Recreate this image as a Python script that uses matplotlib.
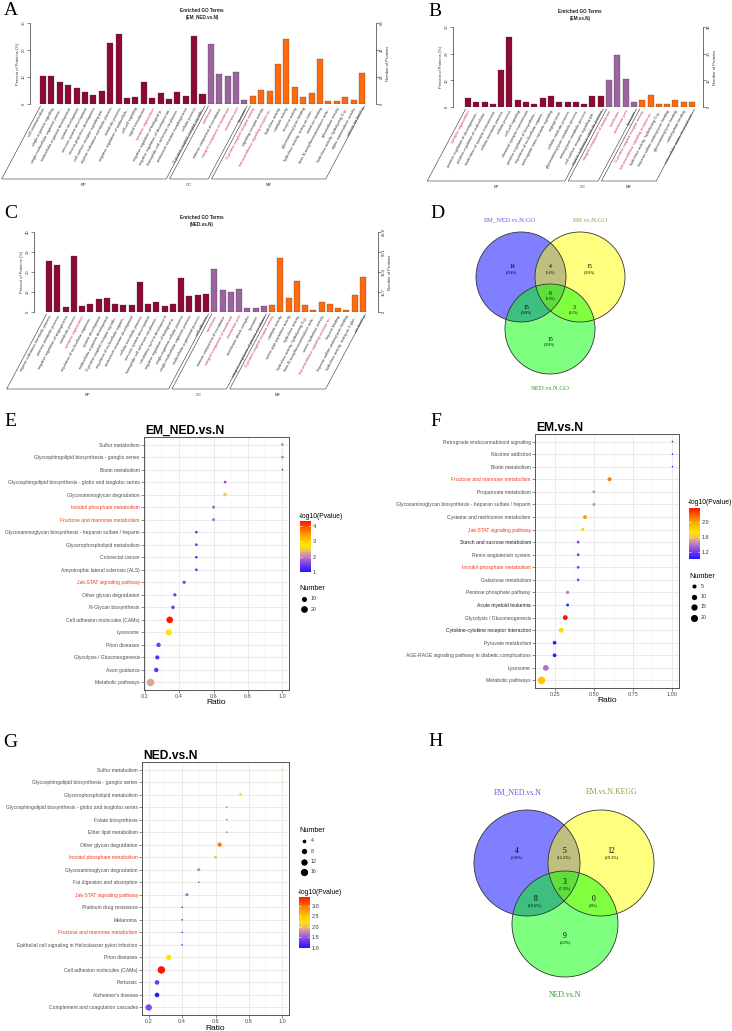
import numpy as np
import matplotlib
matplotlib.use("Agg")
import matplotlib.pyplot as plt
from matplotlib.colors import LinearSegmentedColormap, Normalize
from matplotlib.patches import Circle

W, H = 732, 1031
plt.rcParams["font.family"] = ["Liberation Sans", "DejaVu Sans"]
SERIF = ["Liberation Serif", "DejaVu Serif"]

# ---------------- GO bar charts (A, B, C) ----------------
GROUP_NAMES = ["BP", "CC", "MF"]
GROUP_COLORS = ["#8C0A32", "#9B63A0", "#FF6A0D"]
RED_TERMS = {"synapse organization", "membrane", "integral component of membrane",
             "membrane part", "G-protein coupled receptor activity",
             "transmembrane signaling receptor ac..."}

A_TERMS = [
    "cell communication", "single organism signaling", "single-multicellular organism proce...",
    "multicellular organism development", "system development", "nervous system development",
    "neuron projection development", "cell surface receptor signaling pat...",
    "organic substance metabolic process", "metabolic process",
    "negative regulation of multicellula...", "cell-cell signaling", "signal transduction",
    "synapse organization", "negative regulation of biological p...",
    "negative regulation of developmenta...", "homophilic cell adhesion via plasma...",
    "anatomical structure morphogenesis", "cellular process",
    "G-protein coupled receptor signalin...",
    "membrane", "intrinsic component of membrane", "integral component of membrane",
    "membrane part", "lysosome",
    "G-protein coupled receptor activity", "signaling receptor activity",
    "transmembrane signaling receptor ac...", "hydrolase activity", "catalytic activity",
    "receptor activity", "glycosaminoglycan binding", "hydrolase activity, acting on ester...",
    "metal ion binding", "beta-N-acetylhexosaminidase activ...", "glucosidase activity",
    "hydrolase activity, hydrolyzing O-g...", "alpha-mannosidase activity", "calcium ion binding",
]
A_GROUP_SIZES = [20, 5, 14]
A_PCT = [10.5, 10.5, 8.3, 7.0, 6.1, 4.5, 3.2, 4.8, 22.7, 25.8, 2.3, 2.7, 8.3, 2.3, 4.0,
         1.8, 4.4, 3.1, 25.3, 3.6,
         22.3, 11.0, 10.5, 11.9, 1.4,
         3.1, 5.3, 4.9, 14.9, 24.1, 6.2, 2.7, 4.0, 16.7, 1.0, 1.0, 2.7, 1.4, 11.4]
A_TOTAL = 230

B_TERMS = [
    "synapse organization", "positive regulation of developmenta...",
    "positive regulation of multicellular...", "modulation of synaptic transmission",
    "cellular metabolic process", "cellular process", "cell-cell signaling",
    "chemical synaptic transmission", "positive regulation of biosynthetic...",
    "regulation of multicellular organis...", "anterograde trans-synaptic signaling",
    "angiogenesis", "cellular catabolic process", "glycosaminoglycan metabolic process",
    "aminoglycan metabolic process", "cell surface receptor signaling pat...",
    "organic substance catabolic process",
    "integral component of membrane", "membrane", "membrane part", "lysosome",
    "G-protein coupled receptor activity", "transmembrane signaling receptor ac...",
    "hydrolase activity, hydrolyzing O-g...", "heparan sulfate proteoglycan binding",
    "glycosaminoglycan binding", "carbohydrate binding", "extracellular matrix structural con...",
]
B_GROUP_SIZES = [17, 4, 7]
B_PCT = [3.4, 2.0, 2.0, 1.3, 14.0, 26.3, 2.6, 2.0, 1.3, 3.4, 4.0, 2.0, 2.0, 2.0, 1.3, 4.0, 4.0,
         10.0, 19.5, 10.6, 2.0,
         2.6, 4.6, 1.3, 1.3, 2.6, 2.0, 2.0]
B_TOTAL = 150

C_TERMS = [
    "organic substance metabolic process", "primary metabolic process",
    "negative regulation of angiogenesis", "metabolic process", "synapse organization",
    "regulation of multicellular organism...", "system development",
    "multicellular organism development", "G-protein coupled receptor signalin...",
    "regulation of multicellular organis...", "anatomical structure development",
    "cellular metabolic process", "nervous system development",
    "homophilic cell adhesion via plasma...", "circulatory system development",
    "negative regulation of biological p...", "single-organism cellular process",
    "single-multicellular organism process", "multicellular organismal process", "cell adhesion",
    "membrane", "intrinsic component of membrane", "integral component of membrane",
    "membrane part", "membrane attack complex", "lysosome",
    "integral component of plasma membrane",
    "G-protein coupled receptor activity", "catalytic activity", "serine-type peptidase activity",
    "hydrolase activity", "hydrolase activity, hydrolyzing O-g...",
    "beta-N-acetylhexosaminidase activ...", "serine hydrolase activity",
    "transmembrane signaling receptor ac...", "heparin binding",
    "heparan sulfate proteoglycan binding", "hydrolase activity, acting on 1-glyc...", "ion binding",
]
C_GROUP_SIZES = [20, 7, 12]
C_PCT = [25.6, 23.5, 2.5, 28.0, 3.1, 4.2, 6.6, 7.2, 4.2, 3.6, 3.6, 15.0, 4.2, 4.8, 3.1, 4.2,
         16.8, 7.8, 8.4, 9.0,
         21.7, 10.8, 10.2, 11.4, 1.8, 1.8, 3.1,
         3.6, 26.8, 7.2, 15.5, 3.6, 1.2, 4.8, 4.2, 1.8, 1.2, 8.4, 17.4]
C_TOTAL = 167

# ---------------- KEGG dot plots (E, F, G) ----------------
KEGG_RED = {"Inositol phosphate metabolism", "Fructose and mannose metabolism",
            "Jak-STAT signaling pathway"}

E_TERMS = [
    "Sulfur metabolism", "Glycosphingolipid biosynthesis - ganglio series", "Biotin metabolism",
    "Glycosphingolipid biosynthesis - globo and isoglobo series", "Glycosaminoglycan degradation",
    "Inositol phosphate metabolism", "Fructose and mannose metabolism",
    "Glycosaminoglycan biosynthesis - heparan sulfate / heparin", "Glycerophospholipid metabolism",
    "Colorectal cancer", "Amyotrophic lateral sclerosis (ALS)", "Jak-STAT signaling pathway",
    "Other glycan degradation", "N-Glycan biosynthesis", "Cell adhesion molecules (CAMs)",
    "Lysosome", "Prion diseases", "Glycolysis / Gluconeogenesis", "Axon guidance",
    "Metabolic pathways",
]
E_RATIO = [1.0, 1.0, 1.0, 0.667, 0.667, 0.6, 0.6, 0.5, 0.5, 0.5, 0.5, 0.429, 0.375, 0.364,
           0.345, 0.340, 0.28, 0.273, 0.267, 0.234]
E_LOGP = [2.0, 2.0, 1.0, 1.6, 2.5, 1.9, 1.9, 1.4, 1.4, 1.4, 1.4, 1.5, 1.45, 1.5, 4.3, 2.65,
          1.5, 1.33, 1.4, 2.22]
E_COUNT = [2, 2, 1, 2, 4, 3, 3, 2, 2, 2, 2, 3, 3, 4, 19, 17, 7, 6, 7, 26]

F_TERMS = [
    "Retrograde endocannabinoid signaling", "Nicotine addiction", "Biotin metabolism",
    "Fructose and mannose metabolism", "Propanoate metabolism",
    "Glycosaminoglycan biosynthesis - heparan sulfate / heparin",
    "Cysteine and methionine metabolism", "Jak-STAT signaling pathway",
    "Starch and sucrose metabolism", "Renin-angiotensin system", "Inositol phosphate metabolism",
    "Galactose metabolism", "Pentose phosphate pathway", "Acute myeloid leukemia",
    "Glycolysis / Gluconeogenesis", "Cytokine-cytokine receptor interaction",
    "Pyruvate metabolism", "AGE-RAGE signaling pathway in diabetic complications", "Lysosome",
    "Metabolic pathways",
]
F_RATIO = [1.0, 1.0, 1.0, 0.6, 0.5, 0.5, 0.444, 0.429, 0.4, 0.4, 0.4, 0.4, 0.333, 0.333,
           0.318, 0.292, 0.25, 0.25, 0.194, 0.167]
F_LOGP = [1.02, 1.02, 1.02, 2.1, 1.45, 1.45, 1.99, 1.67, 1.25, 1.25, 1.25, 1.25, 1.42, 1.03,
          2.37, 1.76, 1.05, 1.05, 1.38, 1.86]
F_COUNT = [1, 1, 1, 5, 2, 2, 5, 3, 2, 2, 2, 2, 3, 2, 8, 8, 4, 4, 12, 23]

G_TERMS = [
    "Sulfur metabolism", "Glycosphingolipid biosynthesis - ganglio series",
    "Glycerophospholipid metabolism",
    "Glycosphingolipid biosynthesis - globo and isoglobo series", "Folate biosynthesis",
    "Ether lipid metabolism", "Other glycan degradation", "Inositol phosphate metabolism",
    "Glycosaminoglycan degradation", "Fat digestion and absorption", "Jak-STAT signaling pathway",
    "Platinum drug resistance", "Melanoma", "Fructose and mannose metabolism",
    "Epithelial cell signaling in Helicobacter pylori infection", "Prion diseases",
    "Cell adhesion molecules (CAMs)", "Pertussis", "Alzheimer's disease",
    "Complement and coagulation cascades",
]
G_RATIO = [1.0, 1.0, 0.75, 0.667, 0.667, 0.667, 0.625, 0.6, 0.5, 0.5, 0.429, 0.4, 0.4, 0.4,
           0.4, 0.32, 0.276, 0.25, 0.25, 0.2]
G_LOGP = [2.1, 2.1, 2.27, 1.48, 1.48, 1.48, 2.97, 2.0, 1.72, 1.34, 1.58, 1.0, 1.0, 1.0, 1.0,
          2.27, 3.4, 1.31, 1.02, 1.43]
G_COUNT = [2, 2, 3, 2, 2, 2, 5, 3, 3, 2, 3, 2, 2, 2, 2, 8, 17, 6, 6, 12]

# ---------------- Venn diagrams (D, H) ----------------
# region order: A only, A&B, B only, A&C, A&B&C, B&C, C only
D_SETS = ["EM_NED.vs.N.GO", "EM.vs.N.GO", "NED.vs.N.GO"]
D_COUNTS = [14, 4, 15, 15, 6, 3, 15]
H_SETS = ["EM_NED.vs.N", "EM.vs.N.KEGG", "NED.vs.N"]
H_COUNTS = [4, 5, 12, 8, 3, 0, 9]

CMAP = LinearSegmentedColormap.from_list("pv", [
    (0.0, "#1a1aff"), (0.15, "#7a3af0"), (0.3, "#c080c0"), (0.42, "#f2c060"),
    (0.52, "#ffe800"), (0.75, "#ff9a00"), (1.0, "#ff1500")])
RED = "#cc3366"
KRED = "#f23a1e"

fig = plt.figure(figsize=(W / 100, H / 100), dpi=100)
ov = fig.add_axes([0, 0, 1, 1], zorder=10)
ov.set_xlim(0, W)
ov.set_ylim(H, 0)
ov.axis("off")


def rect(x0, y0, x1, y1):
    return [x0 / W, 1 - y1 / H, (x1 - x0) / W, (y1 - y0) / H]


def go_panel(terms, pct, sizes, total, ymax, name, ax_px, bar_px, title_xy, depth):
    x0, y0, x1, y1 = ax_px
    n = len(terms)
    sp = (bar_px[1] - bar_px[0]) / (n - 1)
    ax = fig.add_axes(rect(x0, y0, x1, y1))
    ax.set_facecolor("none")
    colors = [c for c, k in zip(GROUP_COLORS, sizes) for _ in range(k)]
    ax.bar(np.arange(n), pct, width=0.72, color=colors, edgecolor="#3a3a3a", linewidth=0.2)
    ax.set_xlim((x0 - bar_px[0]) / sp, (x1 - bar_px[0]) / sp)
    ax.set_ylim(0, ymax)
    for s in ("top", "bottom", "right"):
        ax.spines[s].set_visible(False)
    ax.spines["left"].set_linewidth(0.4)
    yt = np.arange(0, ymax + 1, 10)
    ax.set_yticks(yt)
    ax.set_yticklabels([f"{v:g}" for v in yt], rotation=90, va="center", fontsize=3)
    ax.tick_params(axis="y", length=2, width=0.4, pad=1, colors="#333333")
    ax.set_ylabel("Percent of Proteins (%)", fontsize=3, labelpad=1.5, color="#333333")
    ax.set_xticks(np.arange(n))
    ax.set_xticklabels(terms, rotation=62, ha="right", rotation_mode="anchor", fontsize=2.8)
    ax.tick_params(axis="x", length=0, pad=2)
    for lab in ax.get_xticklabels():
        lab.set_color(RED if lab.get_text() in RED_TERMS else "#333333")

    ax2 = ax.twinx()
    ax2.set_ylim(0, ymax * total / 100)
    rt = yt * total / 100
    ax2.set_yticks(rt)
    ax2.set_yticklabels([f"{round(v, 1):g}" for v in rt], rotation=90, va="center", fontsize=3)
    ax2.tick_params(axis="y", length=2, width=0.4, pad=1, colors="#333333")
    for s in ("top", "bottom", "left"):
        ax2.spines[s].set_visible(False)
    ax2.spines["right"].set_linewidth(0.4)
    ax2.set_ylabel("Number of Proteins", fontsize=3, labelpad=1.5, color="#333333")

    ov.text(title_xy[0], title_xy[1], "Enriched GO Terms\n(" + name + ")", fontsize=3.3,
            fontweight="bold", ha="center", va="center", color="#222222", linespacing=1.3)

    base = y1 + 2
    dx = depth / np.tan(np.radians(62))
    start = 0
    for gname, k in zip(GROUP_NAMES, sizes):
        xl = bar_px[0] + (start - 0.3) * sp
        xr = bar_px[0] + (start + k - 1 + 0.3) * sp
        ov.plot([xl, xl - dx, xr - dx, xr], [base, base + depth, base + depth, base],
                color="#333333", lw=0.4)
        ov.text((xl + xr) / 2 - dx, base + depth + 6, gname, fontsize=3, ha="center",
                va="center", color="#333333")
        start += k


def dot_diam(n, nmin, nmax):
    return 1.5 + 6.0 * np.sqrt((np.asarray(n, float) - nmin) / (nmax - nmin))


def dot_panel(terms, ratio, logp, count, name, ax_px, xticks, xfmt, minor, dark=()):
    x0, y0, x1, y1 = ax_px
    ax = fig.add_axes(rect(x0, y0, x1, y1))
    n = len(terms)
    ypos = np.arange(n, 0, -1)
    lo, hi = min(ratio), max(ratio)
    pad = 0.05 * (hi - lo)
    ax.set_xlim(lo - pad, hi + pad)
    ax.set_ylim(0.4, n + 0.6)
    norm = Normalize(min(logp), max(logp))
    d = dot_diam(count, min(count), max(count))
    ax.scatter(ratio, ypos, s=(0.72 * d) ** 2, c=logp, cmap=CMAP, norm=norm,
               linewidths=0, zorder=3)
    for v in minor:
        ax.axvline(v, color="#F2F2F2", lw=0.35, zorder=0)
    for v in xticks:
        ax.axvline(v, color="#E6E6E6", lw=0.55, zorder=0)
    for v in ypos:
        ax.axhline(v, color="#E6E6E6", lw=0.55, zorder=0)
    ax.set_xticks(xticks)
    ax.set_xticklabels([xfmt % v for v in xticks], fontsize=4.0, color="#4D4D4D")
    ax.set_yticks(ypos)
    ax.set_yticklabels(terms, fontsize=3.6)
    for lab in ax.get_yticklabels():
        t = lab.get_text()
        lab.set_color(KRED if t in KEGG_RED else ("#1f1f1f" if t in dark else "#4D4D4D"))
    ax.tick_params(length=2, width=0.4, color="#333333", pad=1)
    for s in ax.spines.values():
        s.set_color("#555555")
        s.set_linewidth(0.7)
    ov.text(x0 + 1, y0 - 3, name, fontsize=8.7, fontweight="bold", ha="left",
            va="baseline", color="black")
    ov.text((x0 + x1) / 2, y1 + 13, "Ratio", fontsize=6, ha="center", va="center")
    return norm, min(count), max(count)


def colorbar(norm, box_px, ticks, fmt):
    x0, y0, x1, y1 = box_px
    cax = fig.add_axes(rect(x0, y0, x1, y1))
    grad = np.linspace(norm.vmin, norm.vmax, 256).reshape(-1, 1)
    cax.imshow(grad, cmap=CMAP, norm=norm, aspect="auto", origin="lower",
               extent=(0, 1, norm.vmin, norm.vmax))
    cax.set_xlim(0, 1)
    cax.set_ylim(norm.vmin, norm.vmax)
    cax.set_xticks([])
    cax.yaxis.tick_right()
    cax.set_yticks(ticks)
    cax.set_yticklabels([fmt % t for t in ticks], fontsize=4, color="#333333")
    cax.tick_params(axis="y", length=0, pad=1.5)
    for s in cax.spines.values():
        s.set_visible(False)
    for t in ticks:
        cax.plot([0, 0.2], [t, t], color="white", lw=0.4)
        cax.plot([0.8, 1], [t, t], color="white", lw=0.4)
    ov.text(x0 - 1, y0 - 5, "-log10(Pvalue)", fontsize=4.9, ha="left", va="center")


def size_legend(breaks, nmin, nmax, x, y_title, step):
    ov.text(x - 5, y_title, "Number", fontsize=5.2, ha="left", va="center")
    for i, b in enumerate(breaks):
        yy = y_title + 10 + i * step
        ov.scatter([x], [yy], s=(0.72 * dot_diam(b, nmin, nmax)) ** 2, color="black",
                   linewidths=0)
        ov.text(x + 7, yy, str(b), fontsize=3.8, ha="left", va="center", color="#333333")


def venn(sets, counts, centers, r, title_pos, fs_num, fs_pct, fs_title):
    fills = ["#0000ff", "#ffff00", "#00ff00"]
    for (cx, cy), fc in zip(centers, fills):
        ov.add_patch(Circle((cx, cy), r, facecolor=fc, alpha=0.5, edgecolor="none"))
    for cx, cy in centers:
        ov.add_patch(Circle((cx, cy), r, facecolor="none", edgecolor="#333333", lw=0.6))
    (ax_, ay), (bx, by), (cx, cy) = centers
    pos = [
        (ax_ - 0.2 * r, ay - 0.23 * r),
        ((ax_ + bx) / 2, (ay + by) / 2 - 0.23 * r),
        (bx + 0.2 * r, by - 0.23 * r),
        ((ax_ + cx) / 2 - 0.2 * r, (ay + cy) / 2 + 0.1 * r),
        ((ax_ + bx + cx) / 3, (ay + by + cy) / 3 - 1),
        ((bx + cx) / 2 + 0.2 * r, (by + cy) / 2 + 0.1 * r),
        (cx, cy + 0.23 * r),
    ]
    total = sum(counts)
    for (px, py), c in zip(pos, counts):
        ov.text(px, py, str(c), fontsize=fs_num, ha="center", va="center", family=SERIF)
        ov.text(px, py + r * 0.11, f"({round(100 * c / total, 1):g}%)", fontsize=fs_pct,
                ha="center", va="center", family=SERIF)
    tcolors = ["#5a5af0", "#9a9a3a", "#2f9a2f"]
    for (tx, ty), s, tc in zip(title_pos, sets, tcolors):
        ov.text(tx, ty, s, fontsize=fs_title, ha="center", va="center", color=tc, family=SERIF)


# ---- A, B, C
go_panel(A_TERMS, A_PCT, A_GROUP_SIZES, A_TOTAL, 30, "EM_NED.vs.N",
         (30, 23, 376, 104), (43, 362), (202, 14), 73)
go_panel(B_TERMS, B_PCT, B_GROUP_SIZES, B_TOTAL, 30, "EM.vs.N",
         (453, 27, 703, 107), (468, 692), (580, 15), 72)
go_panel(C_TERMS, C_PCT, C_GROUP_SIZES, C_TOTAL, 40, "NED.vs.N",
         (34, 232, 378, 312), (49, 363), (202, 221), 75)

# ---- D, H
venn(D_SETS, D_COUNTS, [(521, 277), (580, 277), (550, 329)], 45,
     [(510, 220), (590, 220), (550, 388)], 4.2, 2.5, 4.8)
venn(H_SETS, H_COUNTS, [(527, 863), (601, 863), (565, 924)], 53,
     [(518, 792), (612, 792), (565, 995)], 5.5, 3.2, 5.6)

# ---- E, F, G
norm, nmin, nmax = dot_panel(E_TERMS, E_RATIO, E_LOGP, E_COUNT, "EM_NED.vs.N",
                             (144, 437, 289, 690), [0.2, 0.4, 0.6, 0.8, 1.0], "%.1f",
                             [0.3, 0.5, 0.7, 0.9])
colorbar(norm, (300, 521, 311, 572), [1, 2, 3, 4], "%g")
size_legend([10, 20], nmin, nmax, 304, 589, 10.3)

norm, nmin, nmax = dot_panel(F_TERMS, F_RATIO, F_LOGP, F_COUNT, "EM.vs.N",
                             (535, 434, 679, 688), [0.25, 0.5, 0.75, 1.0], "%.2f",
                             [0.375, 0.625, 0.875],
                             dark={"Starch and sucrose metabolism", "Acute myeloid leukemia",
                                   "Cytokine-cytokine receptor interaction"})
colorbar(norm, (689, 508, 700, 559), [1.2, 1.6, 2.0], "%.1f")
size_legend([5, 10, 15, 20], nmin, nmax, 694, 576, 10.5)

norm, nmin, nmax = dot_panel(G_TERMS, G_RATIO, G_LOGP, G_COUNT, "NED.vs.N",
                             (142, 762, 289, 1015), [0.2, 0.4, 0.6, 0.8, 1.0], "%.1f",
                             [0.3, 0.5, 0.7, 0.9])
size_legend([4, 8, 12, 16], nmin, nmax, 304, 831, 10.3)
colorbar(norm, (299, 897, 310, 948), [1.0, 1.5, 2.0, 2.5, 3.0], "%.1f")

# ---- panel letters
for letter, (lx, ly) in zip("ABCDEFGH", [(4, 15), (428, 16), (4, 218), (430, 218),
                                        (4, 426), (430, 426), (3, 747), (428, 746)]):
    ov.text(lx, ly, letter, fontsize=14, family=SERIF, ha="left", va="baseline")

fig.savefig("out.png", dpi=100)
